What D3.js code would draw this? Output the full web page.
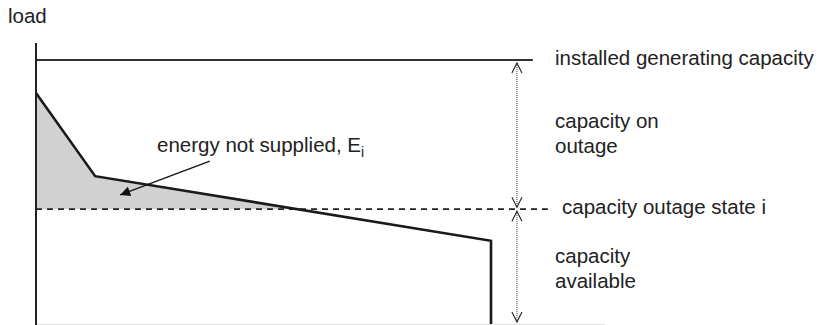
<!DOCTYPE html>
<html>
<head>
<meta charset="utf-8">
<script src="https://cdn.jsdelivr.net/npm/d3@7"></script>
<style>
  body { margin: 0; background: #fff; }
  svg text { font-family: "Liberation Sans", Arial, sans-serif; font-size: 20.5px; fill: #222; }
</style>
</head>
<body>
<svg id="chart" width="819" height="325"></svg>
<script>
// load duration curve (time in %, load in % of installed capacity)
const timeValues = [0, 13, 100, 100];
const loadValues = [87.5, 56, 31.5, 0];
const installedCapacity = 100;
const outageState = 43.5;

// annotation pointer (data units)
const pointerFrom = [38.2, 61.7];
const pointerTo = [18.5, 48.9];

const arrowX = 105.7;      // where the dotted double arrows sit
const capacityLineEnd = 109.2;
const outageLineEnd = 112.5;
const axisTop = 106.4;
const baseLineEnd = 125;

const svg = d3.select("#chart");

const x = d3.scaleLinear().domain([0, 100]).range([36, 491]);
const y = d3.scaleLinear().domain([0, 100]).range([324, 60]);

const pts = timeValues.map((t, i) => ({ t, v: loadValues[i] }));

// light base line
svg.append("line")
  .attr("x1", x(0) + 1).attr("x2", x(baseLineEnd))
  .attr("y1", y(0) + 0.5).attr("y2", y(0) + 0.5)
  .attr("stroke", "#e2e2e2").attr("stroke-width", 1);

// shaded energy not supplied (curve above the outage state)
svg.append("clipPath").attr("id", "above")
  .append("rect")
  .attr("x", x(0)).attr("y", 0)
  .attr("width", x(100) - x(0)).attr("height", y(outageState));

svg.append("path")
  .datum(pts.slice(0, 3))
  .attr("clip-path", "url(#above)")
  .attr("fill", "#d1d1d1")
  .attr("d", d3.area().x(d => x(d.t)).y0(y(outageState)).y1(d => y(d.v)));

// installed capacity line
svg.append("line")
  .attr("x1", x(0)).attr("x2", x(capacityLineEnd))
  .attr("y1", y(installedCapacity)).attr("y2", y(installedCapacity))
  .attr("stroke", "#333").attr("stroke-width", 2);

// capacity outage state (dashed)
svg.append("line")
  .attr("x1", x(0)).attr("x2", x(outageLineEnd))
  .attr("y1", y(outageState)).attr("y2", y(outageState))
  .attr("stroke", "#222").attr("stroke-width", 1.6)
  .attr("stroke-dasharray", "6,5");

// load curve
svg.append("path")
  .datum(pts)
  .attr("fill", "none")
  .attr("stroke", "#1a1a1a").attr("stroke-width", 2.6)
  .attr("stroke-linejoin", "miter")
  .attr("d", d3.line().x(d => x(d.t)).y(d => y(d.v)));

// vertical load axis
svg.append("line")
  .attr("x1", x(0)).attr("x2", x(0))
  .attr("y1", y(axisTop)).attr("y2", y(0) + 1)
  .attr("stroke", "#222").attr("stroke-width", 2);

// dotted double arrows
const ax = x(arrowX);
function dotted(y1, y2) {
  svg.append("line")
    .attr("x1", ax).attr("x2", ax).attr("y1", y1).attr("y2", y2)
    .attr("stroke", "#333").attr("stroke-width", 1)
    .attr("stroke-dasharray", "1,1");
}
function vHead(tipY, dir) {
  // dir = -1 points up, +1 points down
  svg.append("path")
    .attr("d", `M${ax - 5},${tipY - dir * 10}L${ax},${tipY}L${ax + 5},${tipY - dir * 10}`)
    .attr("fill", "none").attr("stroke", "#222").attr("stroke-width", 1.1);
}
dotted(y(installedCapacity) + 3, y(outageState) - 2);
dotted(y(outageState) + 2, y(0) - 2);
vHead(y(installedCapacity) + 3, -1);
vHead(y(outageState) - 2, 1);
vHead(y(outageState) + 2, -1);
vHead(y(0) - 2, 1);

// pointer to shaded area
svg.append("defs").append("marker")
  .attr("id", "tri").attr("viewBox", "0 0 10 10")
  .attr("refX", 10).attr("refY", 5)
  .attr("markerWidth", 14).attr("markerHeight", 10)
  .attr("markerUnits", "userSpaceOnUse")
  .attr("orient", "auto")
  .append("path").attr("d", "M0,0L10,5L0,10Z").attr("fill", "#111");

svg.append("line")
  .attr("x1", x(pointerFrom[0])).attr("y1", y(pointerFrom[1]))
  .attr("x2", x(pointerTo[0])).attr("y2", y(pointerTo[1]))
  .attr("stroke", "#111").attr("stroke-width", 1.2)
  .attr("marker-end", "url(#tri)");

// texts
svg.append("text").attr("x", 8).attr("y", 23).text("load");

const ens = svg.append("text").attr("x", 157).attr("y", 152);
ens.append("tspan").text("energy not supplied, E");
ens.append("tspan").attr("dy", 5).style("font-size", "14px").text("i");

const lx = 555;
svg.append("text").attr("x", lx).attr("y", 65).text("installed generating capacity");
svg.append("text").attr("x", lx).attr("y", 128).text("capacity on");
svg.append("text").attr("x", lx).attr("y", 153).text("outage");
svg.append("text").attr("x", 562).attr("y", 214).text("capacity outage state i");
svg.append("text").attr("x", lx).attr("y", 263).text("capacity");
svg.append("text").attr("x", lx).attr("y", 288).text("available");
</script>
</body>
</html>
